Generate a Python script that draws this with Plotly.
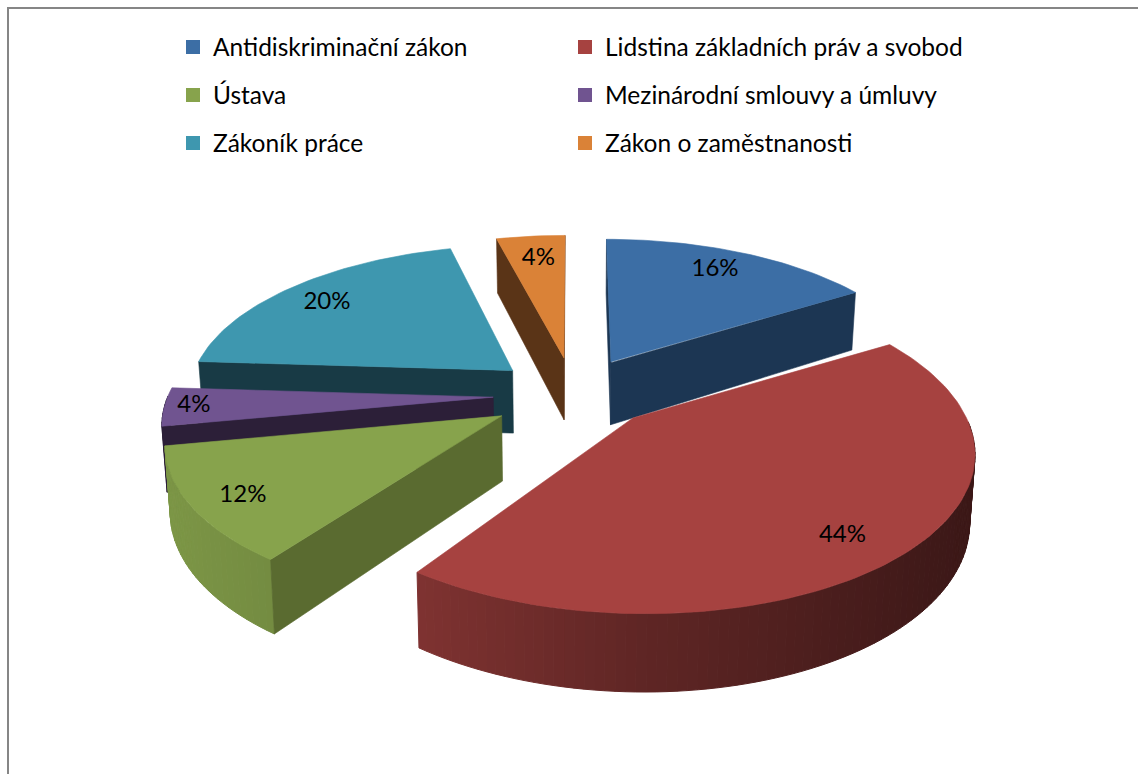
import numpy as np
import plotly.graph_objects as go

categories = ["Antidiskriminační zákon", "Lidstina základních práv a svobod", "Ústava",
              "Mezinárodní smlouvy a úmluvy", "Zákoník práce", "Zákon o zaměstnanosti"]
values = [16, 44, 12, 4, 20, 4]

top_colors = ["#3C6EA5", "#A64240", "#87A34C", "#705490", "#3E97AF", "#DA8237"]
side_colors = ["#1C3653", "#4A1C1A", "#5A6B30", "#2C1F38", "#183A45", "#5A3417"]
pulls = [0.23, 0.30, 0.23, 0.23, 0.23, 0.23]
slice_dx = [6, -6, -4, -2, -1, 3]
slice_dy = [-1, -3, 4, 2, -1, -2]
apex_dy = [-1, -6, 0, 0, 0, 0]
outer_shade = [None, None, None, 0.4, None, None]
label_radius = [0.85, 0.78, 0.87, 0.92, 0.84, 0.84]
label_dx = [-9, 6, 8, 3, 1, 3]
label_dy = [2, 12, 2, 0, 4, 5]
draw_order = [0, 5, 4, 3, 2, 1]
legend_ids = ["legend", "legend2", "legend3", "legend4", "legend5", "legend6"]
legend_left = [173, 565]
legend_rows = [47, 95, 143]

W, H = 1138, 774
CX, CY, R, RY, K, DEPTH, SHRINK = 570, 393, 325, 150, 0.15, 64, 0.987
FONT = "Lato"
TEXT = "#000000"


def project(u, v, z=0.0):
    s = 1 / (1 - K * v)
    x = CX + R * u * s
    if z:
        x = CX + (x - CX) * SHRINK
    return x, CY + RY * v * s + DEPTH * z * s


def shade(hex_color, factor):
    r, g, b = (int(hex_color[i:i + 2], 16) for i in (1, 3, 5))
    return f"rgb({r * factor:.0f},{g * factor:.0f},{b * factor:.0f})"


def poly(xs, ys, color, width=0.6):
    return go.Scatter(x=list(xs), y=list(ys), mode="lines", fill="toself", fillcolor=color,
                      line=dict(color=color, width=width), showlegend=False, hoverinfo="skip")


fractions = np.array(values) / sum(values)
ends = np.cumsum(fractions) * 2 * np.pi
starts = ends - fractions * 2 * np.pi

fig = go.Figure()
label_x, label_y, label_text = [], [], []
for i in draw_order:
    t0, t1 = starts[i], ends[i]
    mid = (t0 + t1) / 2
    ou, ov = pulls[i] * np.sin(mid), -pulls[i] * np.cos(mid)
    ts = np.linspace(t0, t1, max(3, int((t1 - t0) / np.radians(1.5)) + 1))
    us, vs = ou + np.sin(ts), ov - np.cos(ts)
    dx, dy = slice_dx[i], slice_dy[i]

    # front part of the outer curved wall, shaded by horizontal position
    for a in range(len(ts) - 1):
        if -np.cos((ts[a] + ts[a + 1]) / 2) < -0.02:
            continue
        x1, y1 = project(us[a], vs[a])
        x2, y2 = project(us[a + 1], vs[a + 1])
        x3, y3 = project(us[a + 1], vs[a + 1], 1)
        x4, y4 = project(us[a], vs[a], 1)
        f = outer_shade[i]
        if f is None:
            f = float(np.interp((x1 + x2) / 2, [170, 414, 640, 973], [0.92, 0.77, 0.58, 0.36]))
        fig.add_trace(poly(np.array([x1, x2, x3, x4, x1]) + dx,
                           np.array([y1, y2, y3, y4, y1]) + dy, shade(top_colors[i], f), 1))

    # radial walls that face the viewer
    for j, facing in ((0, -np.sin(t0)), (-1, np.sin(t1))):
        if facing < -0.01:
            continue
        x1, y1 = project(ou, ov)
        x2, y2 = project(us[j], vs[j])
        x3, y3 = project(us[j], vs[j], 1)
        x4, y4 = project(ou, ov, 1)
        fig.add_trace(poly(np.array([x1, x2, x3, x4, x1]) + dx,
                           np.array([y1, y2, y3, y4, y1]) + dy, side_colors[i]))

    # top surface
    tx, ty = project(np.r_[ou, us, ou], np.r_[ov, vs, ov])
    tx, ty = tx + dx, ty + dy
    ty[0] += apex_dy[i]
    ty[-1] += apex_dy[i]
    fig.add_trace(poly(tx, ty, top_colors[i]))

    lx, ly = project(ou + label_radius[i] * np.sin(mid), ov - label_radius[i] * np.cos(mid))
    label_x.append(lx + dx + label_dx[i])
    label_y.append(ly + dy + label_dy[i])
    label_text.append(f"{values[i]}%")

fig.add_trace(go.Scatter(x=label_x, y=label_y, text=label_text, mode="text", showlegend=False,
                         hoverinfo="skip", textfont=dict(family=FONT, size=24, color=TEXT)))

legend_layout = {}
for k, (name, color, leg) in enumerate(zip(categories, top_colors, legend_ids)):
    fig.add_trace(go.Scatter(x=[None], y=[None], mode="markers", name=name, legend=leg,
                             showlegend=True,
                             marker=dict(symbol="square", size=14, color=color)))
    legend_layout[leg] = dict(x=legend_left[k % 2] / W, y=1 - legend_rows[k // 2] / H,
                              xanchor="left", yanchor="middle",
                              itemclick=False, itemdoubleclick=False,
                              bgcolor="rgba(0,0,0,0)",
                              font=dict(family=FONT, size=24.5, color=TEXT))

fig.update_layout(
    width=W, height=H, margin=dict(l=0, r=0, t=0, b=0),
    paper_bgcolor="white", plot_bgcolor="white", hovermode=False,
    xaxis=dict(range=[0, W], visible=False, fixedrange=True),
    yaxis=dict(range=[H, 0], visible=False, fixedrange=True),
    shapes=[dict(type="rect", xref="x", yref="y", x0=8, y0=8, x1=1300, y1=900,
                 line=dict(color="#868686", width=2))],
    **legend_layout,
)
fig.write_html("out.html", config={"displayModeBar": False},
               post_script="document.body.style.margin='0';")
